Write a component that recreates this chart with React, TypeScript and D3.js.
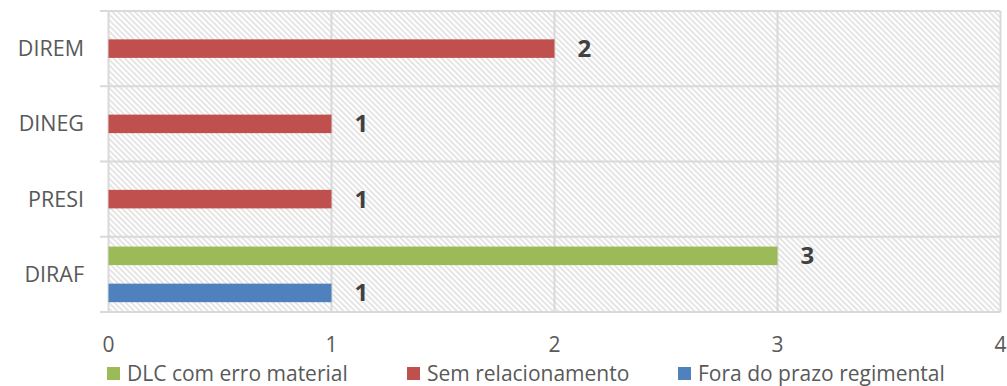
import React from "react";
import * as d3 from "d3";

const categories = ["DIREM", "DINEG", "PRESI", "DIRAF"];
const seriesNames = ["DLC com erro material", "Sem relacionamento", "Fora do prazo regimental"];
const dlcValues = [0, 0, 0, 3];
const semValues = [2, 1, 1, 0];
const foraValues = [0, 0, 0, 1];
const xTicks = [0, 1, 2, 3, 4];
const colors = ["#9BBB59", "#C0504D", "#4F81BD"];

const W = 1007, H = 386;
const left = 108.5, right = 1000.5, top = 11, bottom = 312;
const FONT = "'Open Sans', sans-serif";

export default function App() {
  const x = d3.scaleLinear().domain([0, 4]).range([left, right]);
  const y = d3.scaleBand<string>().domain(categories).range([top, bottom]);
  const inner = d3.scaleBand<string>().domain(seriesNames).range([0, y.bandwidth()]).paddingOuter(0.53);
  const allValues = [dlcValues, semValues, foraValues];
  const legendX = [107, 407, 678];

  return (
    <svg width={W} height={H} style={{ position: "absolute", left: 0, top: 0, background: "#fff" }}>
      <defs>
        <pattern id="hatch" patternUnits="userSpaceOnUse" width="4" height="4" patternTransform="rotate(45)">
          <rect width="4" height="4" fill="#ffffff" />
          <line x1="0" y1="1" x2="4" y2="1" stroke="#d4d4d4" strokeWidth="1.2" />
        </pattern>
      </defs>
      <rect x={left} y={top} width={right - left} height={bottom - top} fill="url(#hatch)" />
      {xTicks.map((t) => (
        <line key={"v" + t} x1={x(t)} x2={x(t)} y1={top} y2={bottom} stroke="#D9D9D9" strokeWidth={2} />
      ))}
      {[...categories.map((c) => y(c)!), bottom].map((yy, i) => (
        <line key={"h" + i} x1={100} x2={right} y1={yy} y2={yy} stroke="#D9D9D9" strokeWidth={2} />
      ))}
      {categories.map((c, ci) =>
        seriesNames.map((s, si) => {
          const v = allValues[si][ci];
          if (!v) return null;
          const by = y(c)! + inner(s)!;
          const bh = inner.bandwidth();
          return (
            <g key={c + s}>
              <rect x={x(0)} y={by} width={x(v) - x(0)} height={bh} fill={colors[si]} />
              <text x={x(v) + 23} y={by + bh / 2 + 8.5} fontFamily={FONT} fontSize={24} fontWeight="bold" fill="#404040">
                {v}
              </text>
            </g>
          );
        })
      )}
      {categories.map((c) => (
        <text key={"c" + c} x={84} y={y(c)! + y.bandwidth() / 2 + 7.5} textAnchor="end" fontFamily={FONT} fontSize={21.5} fill="#595959">
          {c}
        </text>
      ))}
      {xTicks.map((t) => (
        <text key={"t" + t} x={x(t)} y={352} textAnchor="middle" fontFamily={FONT} fontSize={21} fill="#595959">
          {t}
        </text>
      ))}
      {seriesNames.map((s, i) => (
        <g key={"l" + s}>
          <rect x={legendX[i]} y={367} width={13} height={13} fill={colors[i]} />
          <text x={legendX[i] + 20} y={381} fontFamily={FONT} fontSize={21} fill="#595959">
            {s}
          </text>
        </g>
      ))}
    </svg>
  );
}
